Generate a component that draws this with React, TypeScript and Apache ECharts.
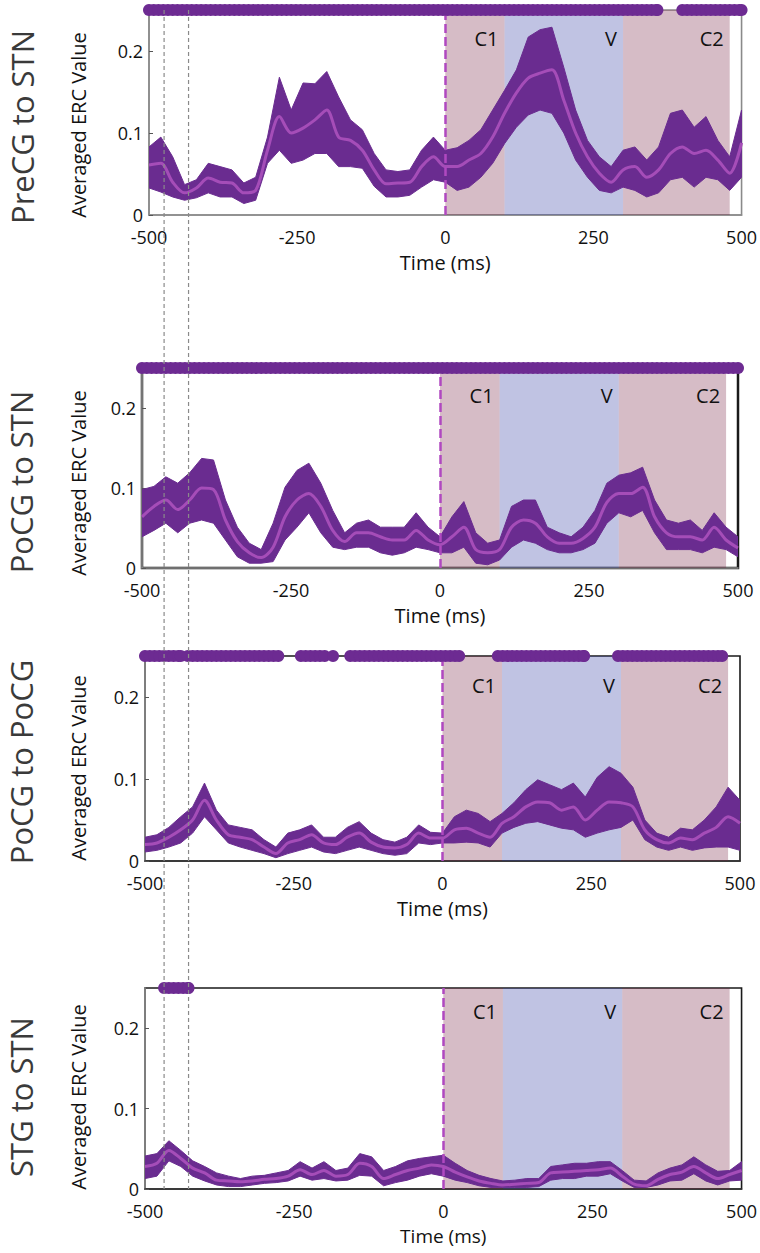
import React, { useEffect, useRef } from "react";
import * as echarts from "echarts";

// ---------------- data ----------------
const TIMES = [
  -500, -480, -460, -440, -420, -400, -380, -360, -340, -320, -300, -280, -260, -240, -220, -200, -180,
  -160, -140, -120, -100, -80, -60, -40, -20, 0, 20, 40, 60, 80, 100, 120, 140, 160, 180, 200, 220, 240,
  260, 280, 300, 320, 340, 360, 380, 400, 420, 440, 460, 480, 500,
];

const PANEL_NAMES = ["PreCG to STN", "PoCG to STN", "PoCG to PoCG", "STG to STN"];
const Y_LABEL = "Averaged ERC Value";
const X_LABEL = "Time (ms)";
const Y_TICK_VALUES = [0, 0.1, 0.2];

// PreCG to STN
const P1_UPPER = [0.083, 0.095, 0.071, 0.037, 0.043, 0.063, 0.059, 0.055, 0.039, 0.046, 0.095, 0.168, 0.128, 0.161, 0.16, 0.175, 0.144, 0.116, 0.104, 0.075, 0.055, 0.053, 0.055, 0.079, 0.095, 0.079, 0.082, 0.091, 0.104, 0.128, 0.152, 0.177, 0.217, 0.226, 0.229, 0.18, 0.128, 0.091, 0.071, 0.059, 0.079, 0.083, 0.067, 0.083, 0.124, 0.128, 0.107, 0.12, 0.091, 0.071, 0.128];
const P1_LOWER = [0.033, 0.028, 0.022, 0.018, 0.021, 0.027, 0.022, 0.022, 0.014, 0.018, 0.063, 0.079, 0.063, 0.067, 0.075, 0.075, 0.059, 0.059, 0.057, 0.035, 0.022, 0.022, 0.024, 0.034, 0.043, 0.04, 0.03, 0.034, 0.046, 0.063, 0.087, 0.107, 0.122, 0.128, 0.124, 0.1, 0.067, 0.046, 0.03, 0.027, 0.034, 0.03, 0.022, 0.027, 0.043, 0.046, 0.034, 0.046, 0.043, 0.03, 0.046];
const P1_MEAN = [0.061, 0.063, 0.04, 0.027, 0.033, 0.045, 0.04, 0.039, 0.027, 0.03, 0.079, 0.12, 0.1, 0.106, 0.116, 0.128, 0.095, 0.091, 0.079, 0.055, 0.038, 0.039, 0.04, 0.059, 0.071, 0.059, 0.059, 0.067, 0.075, 0.095, 0.124, 0.149, 0.167, 0.173, 0.177, 0.14, 0.1, 0.071, 0.051, 0.04, 0.055, 0.059, 0.046, 0.055, 0.075, 0.083, 0.075, 0.079, 0.067, 0.051, 0.088];

// PoCG to STN
const P2_UPPER = [0.098, 0.102, 0.114, 0.106, 0.119, 0.137, 0.135, 0.085, 0.051, 0.031, 0.023, 0.056, 0.101, 0.122, 0.131, 0.106, 0.072, 0.044, 0.056, 0.06, 0.051, 0.051, 0.051, 0.069, 0.051, 0.039, 0.064, 0.083, 0.044, 0.031, 0.035, 0.077, 0.085, 0.085, 0.051, 0.044, 0.039, 0.051, 0.072, 0.106, 0.116, 0.119, 0.126, 0.085, 0.06, 0.056, 0.06, 0.047, 0.069, 0.051, 0.039];
const P2_LOWER = [0.039, 0.047, 0.056, 0.044, 0.056, 0.06, 0.056, 0.035, 0.014, 0.006, 0.006, 0.008, 0.035, 0.051, 0.069, 0.044, 0.026, 0.023, 0.026, 0.026, 0.019, 0.016, 0.019, 0.026, 0.023, 0.019, 0.019, 0.026, 0.006, 0.004, 0.01, 0.026, 0.035, 0.031, 0.023, 0.019, 0.019, 0.023, 0.031, 0.056, 0.069, 0.064, 0.072, 0.044, 0.023, 0.023, 0.023, 0.019, 0.026, 0.023, 0.014];
const P2_MEAN = [0.064, 0.077, 0.085, 0.073, 0.085, 0.1, 0.098, 0.06, 0.033, 0.019, 0.013, 0.026, 0.064, 0.085, 0.093, 0.077, 0.047, 0.033, 0.044, 0.044, 0.039, 0.035, 0.035, 0.047, 0.035, 0.029, 0.039, 0.051, 0.023, 0.019, 0.023, 0.051, 0.06, 0.056, 0.039, 0.031, 0.031, 0.037, 0.051, 0.082, 0.093, 0.093, 0.101, 0.064, 0.044, 0.039, 0.039, 0.035, 0.051, 0.035, 0.025];

// PoCG to PoCG
const P3_UPPER = [0.029, 0.032, 0.041, 0.054, 0.066, 0.095, 0.062, 0.044, 0.041, 0.038, 0.026, 0.017, 0.034, 0.038, 0.044, 0.029, 0.029, 0.041, 0.048, 0.034, 0.026, 0.023, 0.029, 0.044, 0.035, 0.034, 0.054, 0.062, 0.058, 0.048, 0.058, 0.071, 0.087, 0.099, 0.093, 0.087, 0.095, 0.078, 0.102, 0.115, 0.107, 0.09, 0.05, 0.034, 0.029, 0.04, 0.038, 0.05, 0.066, 0.09, 0.074];
const P3_LOWER = [0.011, 0.013, 0.017, 0.022, 0.034, 0.054, 0.038, 0.022, 0.017, 0.013, 0.009, 0.004, 0.009, 0.013, 0.017, 0.011, 0.009, 0.013, 0.017, 0.013, 0.009, 0.007, 0.009, 0.022, 0.02, 0.022, 0.022, 0.023, 0.022, 0.017, 0.034, 0.041, 0.046, 0.048, 0.044, 0.04, 0.038, 0.029, 0.034, 0.038, 0.041, 0.05, 0.026, 0.017, 0.013, 0.017, 0.013, 0.016, 0.017, 0.017, 0.013];
const P3_MEAN = [0.02, 0.022, 0.029, 0.038, 0.05, 0.074, 0.05, 0.032, 0.029, 0.026, 0.017, 0.009, 0.022, 0.026, 0.032, 0.022, 0.02, 0.029, 0.034, 0.023, 0.017, 0.016, 0.02, 0.034, 0.028, 0.028, 0.038, 0.04, 0.034, 0.029, 0.046, 0.054, 0.066, 0.072, 0.071, 0.062, 0.066, 0.05, 0.062, 0.072, 0.071, 0.066, 0.038, 0.026, 0.022, 0.028, 0.026, 0.034, 0.041, 0.054, 0.046];

// STG to STN
const P4_UPPER = [0.041, 0.044, 0.06, 0.048, 0.035, 0.028, 0.02, 0.016, 0.013, 0.016, 0.017, 0.02, 0.023, 0.034, 0.026, 0.034, 0.023, 0.026, 0.044, 0.04, 0.023, 0.028, 0.035, 0.038, 0.04, 0.042, 0.032, 0.023, 0.017, 0.013, 0.01, 0.011, 0.013, 0.013, 0.028, 0.03, 0.032, 0.032, 0.034, 0.034, 0.023, 0.011, 0.01, 0.02, 0.026, 0.03, 0.04, 0.03, 0.022, 0.023, 0.034];
const P4_LOWER = [0.013, 0.016, 0.035, 0.028, 0.016, 0.01, 0.005, 0.003, 0.003, 0.005, 0.007, 0.008, 0.01, 0.016, 0.011, 0.013, 0.01, 0.011, 0.017, 0.016, 0.004, 0.008, 0.011, 0.016, 0.019, 0.016, 0.011, 0.008, 0.004, 0.002, 0.002, 0.002, 0.002, 0.003, 0.011, 0.013, 0.013, 0.016, 0.016, 0.019, 0.01, 0.002, 0.002, 0.005, 0.01, 0.011, 0.019, 0.01, 0.005, 0.01, 0.011];
const P4_MEAN = [0.028, 0.032, 0.048, 0.038, 0.026, 0.02, 0.011, 0.01, 0.009, 0.01, 0.012, 0.013, 0.016, 0.024, 0.018, 0.023, 0.016, 0.018, 0.032, 0.028, 0.013, 0.018, 0.023, 0.026, 0.03, 0.028, 0.021, 0.015, 0.01, 0.007, 0.005, 0.006, 0.007, 0.008, 0.02, 0.021, 0.022, 0.023, 0.024, 0.026, 0.016, 0.006, 0.004, 0.012, 0.018, 0.021, 0.028, 0.02, 0.013, 0.018, 0.023];

// significant time intervals (ms), drawn as marker rows at the top
const P1_SIG = [[-500, 358], [400, 500]];
const P2_SIG = [[-500, 500]];
const P3_SIG = [[-500, -440], [-428, -276], [-238, -198], [-184, -184], [-155, 28], [93, 238], [295, 470]];
const P4_SIG = [[-468, -427]];
const SIG_LEVEL = 0.25;
const SIG_STEP = 8;

// task phases
const PHASE_NAMES = ["C1", "V", "C2"];
const PHASE_START = [0, 100, 300];
const PHASE_END = [100, 300, 480];
const PHASE_KIND = ["c", "v", "c"];

// vertical dashed guides (ms, on the last panel's axis)
const GUIDE_TIMES = [-468, -427];

// ---------------- styling / layout ----------------
const BAND_COLOR = "#6a2c90";
const MEAN_COLOR = "#a54db8";
const MARK_COLOR = "#6d2b92";
const PINK = "rgba(118,32,65,0.30)";
const BLUE = "rgba(45,55,162,0.30)";
const ZERO_COLOR = "#b048c0";
const FONT = "Open Sans";

const GRIDS = [
  { left: 149, top: 10, width: 594, height: 205 },
  { left: 142, top: 368, width: 596, height: 200 },
  { left: 145, top: 656, width: 595, height: 205 },
  { left: 145, top: 988, width: 599, height: 201 },
];
const TITLE_POS = [
  [22, 127],
  [21, 482],
  [21, 762],
  [21, 1097],
];
const YNAME_POS = [
  [78, 125],
  [78, 483],
  [78, 768],
  [78, 1097],
];
const LABEL_OFFSET_Y = [12, 11, 13, 7];
const NAME_SIZE = [20, 20, 20, 19];

const PANELS = [
  { upper: P1_UPPER, lower: P1_LOWER, mean: P1_MEAN, sig: P1_SIG },
  { upper: P2_UPPER, lower: P2_LOWER, mean: P2_MEAN, sig: P2_SIG },
  { upper: P3_UPPER, lower: P3_LOWER, mean: P3_MEAN, sig: P3_SIG },
  { upper: P4_UPPER, lower: P4_LOWER, mean: P4_MEAN, sig: P4_SIG },
];

function sigPoints(intervals: number[][]) {
  const pts: number[][] = [];
  intervals.forEach(([a, b]) => {
    for (let t = a; t < b; t += SIG_STEP) pts.push([t, SIG_LEVEL]);
    pts.push([b, SIG_LEVEL]);
  });
  return pts;
}

export default function App() {
  const ref = useRef<HTMLDivElement>(null);

  useEffect(() => {
    if (!ref.current) return;
    const chart = echarts.init(ref.current, undefined, { renderer: "svg" });

    const grid = GRIDS.map((g, i) => ({
      ...g,
      show: true,
      backgroundColor: "transparent",
      borderColor: i === 0 ? "#8a8a8a" : "#1a1a1a",
      borderWidth: i === 1 ? 2.5 : 1.6,
    }));

    const xAxis = GRIDS.map((_, i) => ({
      type: "value",
      gridIndex: i,
      min: -500,
      max: 500,
      interval: 250,
      axisLine: { show: true, onZero: false, lineStyle: { color: i < 2 ? "#8c8c8c" : "#333", width: 1.6 } },
      axisTick: { show: false },
      splitLine: { show: false },
      axisLabel: { fontSize: 18, color: "#111", fontFamily: FONT, margin: 13 },
      name: X_LABEL,
      nameLocation: "middle",
      nameGap: 37,
      nameTextStyle: { fontSize: NAME_SIZE[i], color: "#111", fontFamily: FONT },
    }));

    const yAxis = GRIDS.map((_, i) => ({
      type: "value",
      gridIndex: i,
      min: 0,
      max: 0.25,
      interval: 0.1,
      axisLine: { show: true, onZero: false, lineStyle: { color: "#8c8c8c", width: 1.6 } },
      axisTick: { show: true, inside: true, length: 4, lineStyle: { color: "#555" } },
      splitLine: { show: false },
      axisLabel: {
        fontSize: 18,
        color: "#111",
        fontFamily: FONT,
        margin: 6,
        showMaxLabel: false,
        formatter: (v: number) => {
          const r = Math.round(v * 1000) / 1000;
          return Y_TICK_VALUES.includes(r) ? String(r) : "";
        },
      },
    }));

    const series: any[] = [];
    PANELS.forEach((p, i) => {
      // confidence band as a polygon through the axis scales
      series.push({
        type: "custom",
        xAxisIndex: i,
        yAxisIndex: i,
        silent: true,
        z: 2,
        clip: true,
        data: [[TIMES[0], p.lower[0]]],
        renderItem: (_params: any, api: any) => {
          const top = TIMES.map((t, k) => api.coord([t, p.upper[k]]));
          const bottom = TIMES.map((t, k) => api.coord([t, p.lower[k]])).reverse();
          return {
            type: "polygon",
            shape: { points: top.concat(bottom) },
            style: { fill: BAND_COLOR, stroke: BAND_COLOR, lineWidth: 1, lineJoin: "round" },
          };
        },
      });
      series.push({
        type: "line",
        xAxisIndex: i,
        yAxisIndex: i,
        symbol: "none",
        silent: true,
        smooth: 0.3,
        lineStyle: { color: MEAN_COLOR, width: 3 },
        data: TIMES.map((t, k) => [t, p.mean[k]]),
        z: 3,
      });
      series.push({
        type: "line",
        xAxisIndex: i,
        yAxisIndex: i,
        data: [],
        z: 4,
        silent: true,
        markArea: {
          silent: true,
          data: PHASE_NAMES.map((name, k) => [
            {
              xAxis: PHASE_START[k],
              itemStyle: { color: PHASE_KIND[k] === "v" ? BLUE : PINK },
              label: {
                show: true,
                position: "insideTopRight",
                formatter: name,
                fontSize: 20,
                fontFamily: FONT,
                color: "#111",
                distance: 6,
                offset: [0, LABEL_OFFSET_Y[i]],
              },
            },
            { xAxis: PHASE_END[k] },
          ]),
        },
        markLine: {
          silent: true,
          symbol: ["none", "none"],
          label: { show: false },
          lineStyle: { color: ZERO_COLOR, type: [9, 4], width: 2.5 },
          data: [{ xAxis: 0 }],
        },
      });
      series.push({
        type: "scatter",
        xAxisIndex: i,
        yAxisIndex: i,
        symbol: "circle",
        symbolSize: 12,
        clip: false,
        silent: true,
        itemStyle: { color: MARK_COLOR, opacity: 1 },
        data: sigPoints(p.sig),
        z: 6,
      });
    });

    const staticGraphics: any[] = [];
    PANEL_NAMES.forEach((name, i) => {
      staticGraphics.push({
        type: "text",
        x: TITLE_POS[i][0],
        y: TITLE_POS[i][1],
        rotation: Math.PI / 2,
        style: {
          text: name,
          fontSize: 31,
          fontFamily: FONT,
          fill: "#3a3a3a",
          textAlign: "center",
          textVerticalAlign: "middle",
        },
      });
      staticGraphics.push({
        type: "text",
        x: YNAME_POS[i][0],
        y: YNAME_POS[i][1],
        rotation: Math.PI / 2,
        style: {
          text: Y_LABEL,
          fontSize: 20,
          fontFamily: FONT,
          fill: "#111",
          textAlign: "center",
          textVerticalAlign: "middle",
        },
      });
    });

    chart.setOption({
      animation: false,
      backgroundColor: "#ffffff",
      grid,
      xAxis,
      yAxis,
      series,
      graphic: { elements: staticGraphics },
    });

    const yTop = chart.convertToPixel({ yAxisIndex: 0 } as any, SIG_LEVEL) as number;
    const yBottom = chart.convertToPixel({ yAxisIndex: 3 } as any, 0) as number;
    const guides = GUIDE_TIMES.map((t) => {
      const x = chart.convertToPixel({ xAxisIndex: 3 } as any, t) as number;
      return {
        type: "line",
        z: 20,
        silent: true,
        shape: { x1: x, y1: yTop, x2: x, y2: yBottom },
        style: { stroke: "#8a8a8a", lineWidth: 1.2, lineDash: [4, 3] },
      };
    });
    chart.setOption({ graphic: { elements: [...staticGraphics, ...guides] } });

    return () => chart.dispose();
  }, []);

  return (
    <div
      ref={ref}
      style={{ position: "absolute", left: 0, top: 0, width: 760, height: 1253, background: "#fff" }}
    />
  );
}
